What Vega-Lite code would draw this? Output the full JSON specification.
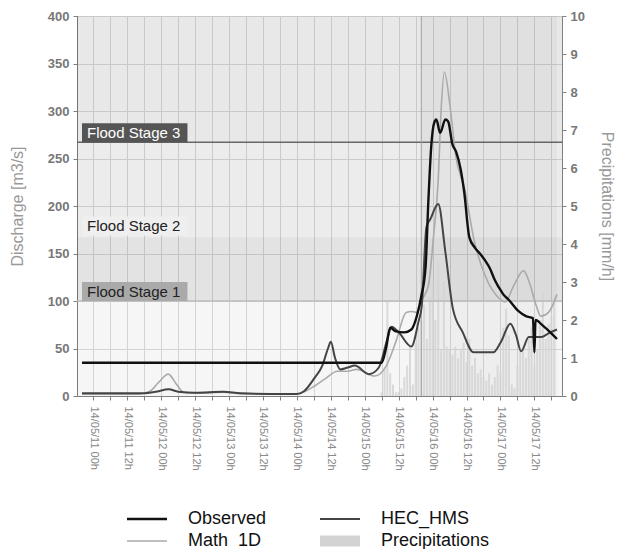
{
  "$schema": "https://vega.github.io/schema/vega-lite/v6.json",
  "width": 485,
  "height": 380,
  "padding": {"left": 9, "right": 0, "top": 10, "bottom": 0},
  "background": "white",
  "config": {
    "font": "Liberation Sans",
    "view": {"stroke": "#808080", "strokeWidth": 1},
    "axis": {"domainColor": "#808080", "tickColor": "#808080", "gridColor": "#dcdcdc", "labelFont": "Liberation Sans", "titleFont": "Liberation Sans"},
    "axisX": {"labelOverlap": false, "labelBound": false}
  },
  "datasets": {
    "bands": [
      {"zone": "normal", "lo": 0, "hi": 100},
      {"zone": "stage1", "lo": 100, "hi": 167},
      {"zone": "stage2", "lo": 167, "hi": 267},
      {"zone": "stage3", "lo": 267, "hi": 400}
    ],
    "stages": [
      {"label": "Flood Stage 3", "level": 267},
      {"label": "Flood Stage 2", "level": 169},
      {"label": "Flood Stage 1", "level": 100}
    ],
    "events": [
      {"event": "forecast", "h": 116, "end": 164}
    ],
    "lines": [
      {"series": "Observed", "h": -4, "v": 35},
      {"series": "Observed", "h": 102, "v": 35},
      {"series": "Observed", "h": 103.5, "v": 50},
      {"series": "Observed", "h": 105, "v": 72},
      {"series": "Observed", "h": 107, "v": 68},
      {"series": "Observed", "h": 110, "v": 67},
      {"series": "Observed", "h": 112.5, "v": 70},
      {"series": "Observed", "h": 114.5, "v": 85},
      {"series": "Observed", "h": 116, "v": 105},
      {"series": "Observed", "h": 117.5, "v": 135},
      {"series": "Observed", "h": 118.5, "v": 205},
      {"series": "Observed", "h": 119.5, "v": 262},
      {"series": "Observed", "h": 120.5, "v": 287},
      {"series": "Observed", "h": 121.33, "v": 291},
      {"series": "Observed", "h": 122.67, "v": 277},
      {"series": "Observed", "h": 124.5, "v": 291},
      {"series": "Observed", "h": 125.5, "v": 289},
      {"series": "Observed", "h": 127, "v": 265},
      {"series": "Observed", "h": 128.33, "v": 257},
      {"series": "Observed", "h": 129.83, "v": 240},
      {"series": "Observed", "h": 131.17, "v": 215},
      {"series": "Observed", "h": 133, "v": 167},
      {"series": "Observed", "h": 135, "v": 156},
      {"series": "Observed", "h": 137, "v": 149},
      {"series": "Observed", "h": 138.5, "v": 143},
      {"series": "Observed", "h": 140.33, "v": 134},
      {"series": "Observed", "h": 142, "v": 122},
      {"series": "Observed", "h": 143.5, "v": 114},
      {"series": "Observed", "h": 145, "v": 107},
      {"series": "Observed", "h": 147, "v": 101},
      {"series": "Observed", "h": 150.5, "v": 89},
      {"series": "Observed", "h": 153, "v": 84},
      {"series": "Observed", "h": 155.5, "v": 82},
      {"series": "Observed", "h": 156, "v": 46},
      {"series": "Observed", "h": 156.4, "v": 80},
      {"series": "Observed", "h": 159, "v": 74},
      {"series": "Observed", "h": 162, "v": 66},
      {"series": "Observed", "h": 164, "v": 60},

      {"series": "HEC_HMS", "h": -4, "v": 3},
      {"series": "HEC_HMS", "h": 18, "v": 3},
      {"series": "HEC_HMS", "h": 22, "v": 4.5},
      {"series": "HEC_HMS", "h": 26.67, "v": 7},
      {"series": "HEC_HMS", "h": 30, "v": 4.5},
      {"series": "HEC_HMS", "h": 36, "v": 3.5},
      {"series": "HEC_HMS", "h": 46, "v": 4.5},
      {"series": "HEC_HMS", "h": 52, "v": 3},
      {"series": "HEC_HMS", "h": 68, "v": 2},
      {"series": "HEC_HMS", "h": 72, "v": 2},
      {"series": "HEC_HMS", "h": 74.5, "v": 5},
      {"series": "HEC_HMS", "h": 78, "v": 18},
      {"series": "HEC_HMS", "h": 81, "v": 32},
      {"series": "HEC_HMS", "h": 83, "v": 50},
      {"series": "HEC_HMS", "h": 84, "v": 57},
      {"series": "HEC_HMS", "h": 85.5, "v": 40},
      {"series": "HEC_HMS", "h": 87.33, "v": 28},
      {"series": "HEC_HMS", "h": 90, "v": 30},
      {"series": "HEC_HMS", "h": 92.5, "v": 32},
      {"series": "HEC_HMS", "h": 97.5, "v": 23},
      {"series": "HEC_HMS", "h": 101, "v": 30},
      {"series": "HEC_HMS", "h": 104, "v": 60},
      {"series": "HEC_HMS", "h": 105.5, "v": 73},
      {"series": "HEC_HMS", "h": 108, "v": 67},
      {"series": "HEC_HMS", "h": 112.5, "v": 52},
      {"series": "HEC_HMS", "h": 115, "v": 78},
      {"series": "HEC_HMS", "h": 116.17, "v": 95},
      {"series": "HEC_HMS", "h": 117.83, "v": 178},
      {"series": "HEC_HMS", "h": 119.17, "v": 186},
      {"series": "HEC_HMS", "h": 122, "v": 202},
      {"series": "HEC_HMS", "h": 124.5, "v": 152},
      {"series": "HEC_HMS", "h": 127.17, "v": 92},
      {"series": "HEC_HMS", "h": 130.67, "v": 67},
      {"series": "HEC_HMS", "h": 134.5, "v": 46},
      {"series": "HEC_HMS", "h": 141.5, "v": 46},
      {"series": "HEC_HMS", "h": 144, "v": 56},
      {"series": "HEC_HMS", "h": 147.5, "v": 76},
      {"series": "HEC_HMS", "h": 149.5, "v": 64},
      {"series": "HEC_HMS", "h": 151.33, "v": 47},
      {"series": "HEC_HMS", "h": 154, "v": 62},
      {"series": "HEC_HMS", "h": 158.5, "v": 62},
      {"series": "HEC_HMS", "h": 161, "v": 66},
      {"series": "HEC_HMS", "h": 164, "v": 70},

      {"series": "Math_1D", "h": -4, "v": 2},
      {"series": "Math_1D", "h": 16, "v": 2},
      {"series": "Math_1D", "h": 20, "v": 5},
      {"series": "Math_1D", "h": 23, "v": 14},
      {"series": "Math_1D", "h": 26.5, "v": 23},
      {"series": "Math_1D", "h": 29.5, "v": 12},
      {"series": "Math_1D", "h": 32, "v": 4},
      {"series": "Math_1D", "h": 38, "v": 3},
      {"series": "Math_1D", "h": 46, "v": 4},
      {"series": "Math_1D", "h": 52, "v": 2.5},
      {"series": "Math_1D", "h": 72, "v": 2},
      {"series": "Math_1D", "h": 75, "v": 5},
      {"series": "Math_1D", "h": 78, "v": 10},
      {"series": "Math_1D", "h": 82, "v": 18},
      {"series": "Math_1D", "h": 86.33, "v": 26},
      {"series": "Math_1D", "h": 90, "v": 26},
      {"series": "Math_1D", "h": 93.17, "v": 28},
      {"series": "Math_1D", "h": 99.5, "v": 21},
      {"series": "Math_1D", "h": 103.67, "v": 32},
      {"series": "Math_1D", "h": 107, "v": 57},
      {"series": "Math_1D", "h": 110.67, "v": 88},
      {"series": "Math_1D", "h": 112.67, "v": 89},
      {"series": "Math_1D", "h": 114.5, "v": 88},
      {"series": "Math_1D", "h": 116, "v": 100},
      {"series": "Math_1D", "h": 118.5, "v": 116},
      {"series": "Math_1D", "h": 120.33, "v": 168},
      {"series": "Math_1D", "h": 122, "v": 228},
      {"series": "Math_1D", "h": 123, "v": 300},
      {"series": "Math_1D", "h": 124.17, "v": 341},
      {"series": "Math_1D", "h": 126.17, "v": 305},
      {"series": "Math_1D", "h": 128.17, "v": 253},
      {"series": "Math_1D", "h": 131.33, "v": 218},
      {"series": "Math_1D", "h": 134.83, "v": 162},
      {"series": "Math_1D", "h": 138.67, "v": 126},
      {"series": "Math_1D", "h": 142.83, "v": 105},
      {"series": "Math_1D", "h": 145.67, "v": 99},
      {"series": "Math_1D", "h": 148.67, "v": 116},
      {"series": "Math_1D", "h": 152.17, "v": 132},
      {"series": "Math_1D", "h": 154.17, "v": 120},
      {"series": "Math_1D", "h": 156.67, "v": 95},
      {"series": "Math_1D", "h": 158.33, "v": 84},
      {"series": "Math_1D", "h": 161, "v": 88},
      {"series": "Math_1D", "h": 164, "v": 107}
    ],
    "rain": [
      {"series": "Precipitations", "h": 102, "p": 0.1},
      {"series": "Precipitations", "h": 103, "p": 0.7},
      {"series": "Precipitations", "h": 104, "p": 2.5},
      {"series": "Precipitations", "h": 105, "p": 0.6},
      {"series": "Precipitations", "h": 106, "p": 0.3},
      {"series": "Precipitations", "h": 107, "p": 0.1},
      {"series": "Precipitations", "h": 108, "p": 0.1},
      {"series": "Precipitations", "h": 109, "p": 0.2},
      {"series": "Precipitations", "h": 110, "p": 0.5},
      {"series": "Precipitations", "h": 111, "p": 0.8},
      {"series": "Precipitations", "h": 112, "p": 1.3},
      {"series": "Precipitations", "h": 113, "p": 0.3},
      {"series": "Precipitations", "h": 114, "p": 1.4},
      {"series": "Precipitations", "h": 115, "p": 1.8},
      {"series": "Precipitations", "h": 116, "p": 2.0},
      {"series": "Precipitations", "h": 117, "p": 2.4},
      {"series": "Precipitations", "h": 118, "p": 1.5},
      {"series": "Precipitations", "h": 119, "p": 2.6},
      {"series": "Precipitations", "h": 120, "p": 3.0},
      {"series": "Precipitations", "h": 121, "p": 2.0},
      {"series": "Precipitations", "h": 122, "p": 3.5},
      {"series": "Precipitations", "h": 123, "p": 1.2},
      {"series": "Precipitations", "h": 124, "p": 3.0},
      {"series": "Precipitations", "h": 125, "p": 1.3},
      {"series": "Precipitations", "h": 126, "p": 1.2},
      {"series": "Precipitations", "h": 127, "p": 1.1},
      {"series": "Precipitations", "h": 128, "p": 1.3},
      {"series": "Precipitations", "h": 129, "p": 1.0},
      {"series": "Precipitations", "h": 130, "p": 1.2},
      {"series": "Precipitations", "h": 131, "p": 1.4},
      {"series": "Precipitations", "h": 132, "p": 0.9},
      {"series": "Precipitations", "h": 133, "p": 1.5},
      {"series": "Precipitations", "h": 134, "p": 0.8},
      {"series": "Precipitations", "h": 135, "p": 1.0},
      {"series": "Precipitations", "h": 136, "p": 0.6},
      {"series": "Precipitations", "h": 137, "p": 0.7},
      {"series": "Precipitations", "h": 138, "p": 0.5},
      {"series": "Precipitations", "h": 139, "p": 0.4},
      {"series": "Precipitations", "h": 140, "p": 0.6},
      {"series": "Precipitations", "h": 141, "p": 0.3},
      {"series": "Precipitations", "h": 142, "p": 0.5},
      {"series": "Precipitations", "h": 143, "p": 0.8},
      {"series": "Precipitations", "h": 144, "p": 0.6},
      {"series": "Precipitations", "h": 145, "p": 1.8},
      {"series": "Precipitations", "h": 146, "p": 2.3},
      {"series": "Precipitations", "h": 147, "p": 1.6},
      {"series": "Precipitations", "h": 148, "p": 0.3},
      {"series": "Precipitations", "h": 149, "p": 0.2},
      {"series": "Precipitations", "h": 150, "p": 0.8},
      {"series": "Precipitations", "h": 151, "p": 1.2},
      {"series": "Precipitations", "h": 152, "p": 1.3},
      {"series": "Precipitations", "h": 153, "p": 1.0},
      {"series": "Precipitations", "h": 154, "p": 1.5},
      {"series": "Precipitations", "h": 155, "p": 1.8},
      {"series": "Precipitations", "h": 156, "p": 0.8},
      {"series": "Precipitations", "h": 157, "p": 1.2},
      {"series": "Precipitations", "h": 158, "p": 2.0},
      {"series": "Precipitations", "h": 159, "p": 2.7},
      {"series": "Precipitations", "h": 160, "p": 1.5},
      {"series": "Precipitations", "h": 161, "p": 1.9},
      {"series": "Precipitations", "h": 162, "p": 2.1},
      {"series": "Precipitations", "h": 163, "p": 2.6}
    ]
  },
  "layer": [
    {
      "layer": [
        {
          "data": {"name": "bands"},
          "mark": {"type": "rect", "color": "black"},
          "encoding": {
            "y": {"field": "lo", "type": "quantitative", "scale": {"domain": [0, 400]},
              "axis": {"orient": "left", "values": [0, 50, 100, 150, 200, 250, 300, 350, 400], "title": "Discharge [m3/s]", "titleColor": "#999999", "titleFontSize": 16, "titleFontWeight": "normal", "labelColor": "#777777", "labelFontSize": 13, "labelFontWeight": "bold", "grid": true, "tickSize": 4, "labelPadding": 4, "titlePadding": 22}},
            "y2": {"field": "hi"},
            "opacity": {"condition": [{"test": "datum.lo == 0", "value": 0.035}, {"test": "datum.lo == 100", "value": 0.11}, {"test": "datum.lo == 167", "value": 0.075}], "value": 0.092}
          }
        },
        {
          "data": {"name": "events"},
          "mark": {"type": "rect", "color": "black", "opacity": 0.03},
          "encoding": {
            "x": {"field": "h", "type": "quantitative", "title": null,
              "scale": {"domain": [-4, 164], "nice": false, "zero": false},
              "axis": {"values": [0, 6, 12, 18, 24, 30, 36, 42, 48, 54, 60, 66, 72, 78, 84, 90, 96, 102, 108, 114, 120, 126, 132, 138, 144, 150, 156, 162], "tickCount": 200, "labelExpr": "datum.value % 12 == 0 ? '14/05/' + (11 + floor(datum.value / 24)) + ' ' + (datum.value % 24 == 0 ? '00' : '12') + 'h' : ''", "labelAngle": 90, "labelFontSize": 11, "labelColor": "#888888", "labelPadding": 6, "labelOverlap": false, "labelFlush": false, "grid": true, "tickSize": 4, "title": null}},
            "x2": {"field": "end"}
          }
        }
      ]
    },
    {
      "data": {"name": "rain"},
      "mark": {"type": "bar", "width": 2, "opacity": 0.85},
      "encoding": {
        "x": {"field": "h", "type": "quantitative", "title": null, "scale": {"domain": [-4, 164], "nice": false, "zero": false}, "axis": {"labelOverlap": false}},
        "y": {"field": "p", "type": "quantitative", "scale": {"domain": [0, 10]},
          "axis": {"orient": "right", "values": [0, 1, 2, 3, 4, 5, 6, 7, 8, 9, 10], "title": "Precipitations [mm/h]", "titleColor": "#999999", "titleFontSize": 16, "titleFontWeight": "normal", "labelColor": "#777777", "labelFontSize": 13, "labelFontWeight": "bold", "grid": false, "tickSize": 4, "labelPadding": 4, "titlePadding": 14}},
        "color": {"field": "series", "type": "nominal"}
      }
    },
    {
      "layer": [
        {
          "data": {"name": "stages"},
          "transform": [{"filter": "datum.label != 'Flood Stage 2'"}],
          "mark": {"type": "rule", "strokeWidth": 1.5},
          "encoding": {
            "y": {"field": "level", "type": "quantitative", "scale": {"domain": [0, 400]}, "axis": null},
            "color": {"condition": {"test": "datum.label == 'Flood Stage 3'", "value": "#666666"}, "value": "#bbbbbb"}
          }
        },
        {
          "data": {"name": "events"},
          "mark": {"type": "rule", "color": "#a0a0a0", "strokeWidth": 1},
          "encoding": {"x": {"field": "h", "type": "quantitative", "title": null, "axis": {"labelOverlap": false}}}
        },
        {
          "data": {"name": "stages"},
          "transform": [{"calculate": "datum.level + 20", "as": "top"}],
          "mark": {"type": "rect"},
          "encoding": {
            "x": {"datum": -4, "type": "quantitative"},
            "x2": {"datum": 33.3},
            "y": {"field": "level", "type": "quantitative"},
            "y2": {"field": "top"},
            "color": {"condition": [{"test": "datum.label == 'Flood Stage 3'", "value": "#555555"}, {"test": "datum.label == 'Flood Stage 2'", "value": "#efefef"}], "value": "#aaaaaa"}
          }
        },
        {
          "data": {"name": "stages"},
          "transform": [{"calculate": "datum.level + 10", "as": "mid"}],
          "mark": {"type": "text", "align": "left", "baseline": "middle", "dx": 5, "fontSize": 15, "font": "Liberation Sans"},
          "encoding": {
            "x": {"datum": -4, "type": "quantitative"},
            "y": {"field": "mid", "type": "quantitative"},
            "text": {"field": "label"},
            "color": {"condition": {"test": "datum.label == 'Flood Stage 3'", "value": "white"}, "value": "#222222"}
          }
        },
        {
          "data": {"name": "lines"},
          "transform": [{"filter": "datum.series == 'Math_1D'"}],
          "mark": {"type": "line", "interpolate": "monotone", "strokeWidth": 1.6},
          "encoding": {
            "x": {"field": "h", "type": "quantitative", "title": null, "axis": {"labelOverlap": false}},
            "y": {"field": "v", "type": "quantitative"},
            "color": {"field": "series", "type": "nominal",
              "scale": {"domain": ["Observed", "HEC_HMS", "Math_1D", "Precipitations"], "range": ["#111111", "#444444", "#aaaaaa", "#d3d3d3"]},
              "legend": {"orient": "none", "legendX": 61, "legendY": 494, "direction": "horizontal", "columns": 2, "title": null, "symbolType": "stroke", "symbolSize": 1600, "symbolStrokeWidth": 2, "labelFontSize": 18, "labelColor": "#111111", "labelFont": "Liberation Sans", "columnPadding": 31, "rowPadding": -9, "labelOffset": 32,
                "encode": {"symbols": {"update": {"strokeWidth": {"signal": "datum.value === 'Precipitations' ? 11 : datum.value === 'Observed' ? 2.4 : datum.value === 'HEC_HMS' ? 2 : 1.6"}}}}}
            }
          }
        },
        {
          "data": {"name": "lines"},
          "transform": [{"filter": "datum.series == 'HEC_HMS'"}],
          "mark": {"type": "line", "interpolate": "monotone", "strokeWidth": 2},
          "encoding": {
            "x": {"field": "h", "type": "quantitative", "title": null},
            "y": {"field": "v", "type": "quantitative"},
            "color": {"field": "series", "type": "nominal"}
          }
        },
        {
          "data": {"name": "lines"},
          "transform": [{"filter": "datum.series == 'Observed'"}],
          "mark": {"type": "line", "interpolate": "monotone", "strokeWidth": 2.4},
          "encoding": {
            "x": {"field": "h", "type": "quantitative", "title": null},
            "y": {"field": "v", "type": "quantitative"},
            "color": {"field": "series", "type": "nominal"}
          }
        }
      ]
    }
  ],
  "resolve": {"scale": {"y": "independent"}}
}
